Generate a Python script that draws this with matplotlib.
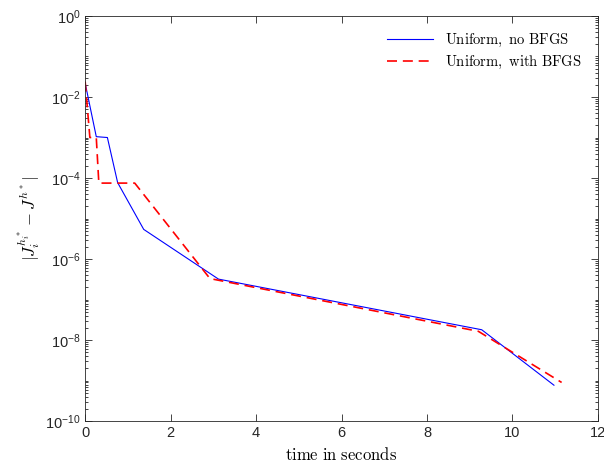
import matplotlib
matplotlib.use("Agg")
import matplotlib.pyplot as plt
from matplotlib.font_manager import FontProperties
from matplotlib.ticker import LogLocator, NullFormatter

plt.rcParams['font.family'] = ['Liberation Sans', 'DejaVu Sans']

# data
t_plain = [0.0, 0.26, 0.52, 0.76, 1.37, 3.12, 9.28, 10.97]
err_plain = [2.2e-2, 1.05e-3, 1.0e-3, 7.7e-5, 5.4e-6, 3.2e-7, 1.8e-8, 7.7e-10]

t_bfgs = [0.0, 0.11, 0.26, 0.32, 1.16, 2.92, 9.2, 11.15]
err_bfgs = [2.4e-2, 1.0e-3, 1.0e-3, 7.5e-5, 7.5e-5, 3.3e-7, 1.65e-8, 9.0e-10]

labels = ['Uniform, no BFGS', 'Uniform, with BFGS']

fig = plt.figure(figsize=(6.04, 4.70), dpi=100)
ax = fig.add_axes([0.141, 0.104, 0.849, 0.862])

ax.semilogy(t_plain, err_plain, color='#0000ff', lw=0.8,
            label=r'$\mathrm{' + labels[0].replace(' ', r'\ ') + '}$')
ax.semilogy(t_bfgs, err_bfgs, color='#ff0000', lw=1.2, dashes=(6, 3.5),
            label=r'$\mathrm{' + labels[1].replace(' ', r'\ ') + '}$')

ax.set_xlim(0, 12)
ax.set_ylim(1e-10, 1)
ax.set_xticks([0, 2, 4, 6, 8, 10, 12])
ax.set_yticks([10.0**k for k in range(-10, 1, 2)])
ax.yaxis.set_minor_locator(LogLocator(base=10, subs=(1, 2, 3, 4, 5, 6, 7, 8, 9), numticks=20))
ax.yaxis.set_minor_formatter(NullFormatter())

ax.tick_params(which='both', direction='in', top=True, right=True,
               color='#262626', labelcolor='#262626', labelsize=10.5, width=0.6)
ax.tick_params(which='major', length=5)
ax.tick_params(which='minor', length=2.5)
for s in ax.spines.values():
    s.set_color('#262626')
    s.set_linewidth(0.6)

cm = FontProperties(size=12, math_fontfamily='cm')
ax.set_xlabel(r'$\mathrm{time\ in\ seconds}$', fontproperties=cm, labelpad=4)
ax.set_ylabel(r'$|J_i^{h_i^*} - J^{h^*}|$', fontproperties=cm, labelpad=2)

leg = ax.legend(loc='upper right', frameon=False,
                prop=FontProperties(size=10.5, math_fontfamily='cm'),
                handlelength=3.2, borderaxespad=0.7, labelspacing=0.3)

fig.savefig('out.png', dpi=100)
